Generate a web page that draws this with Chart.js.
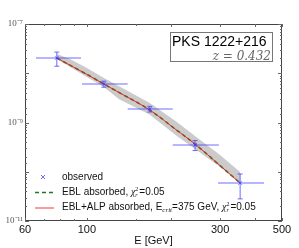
<!DOCTYPE html>
<html>
<head>
<meta charset="utf-8">
<script src="https://cdn.jsdelivr.net/npm/chart.js@4.4.1/dist/chart.umd.min.js"></script>
<style>
  html, body { margin: 0; padding: 0; background: #fff; }
  #wrap { width: 299px; height: 248px; }
</style>
</head>
<body>
<div id="wrap"><canvas id="sed"></canvas></div>
<script>
// Dados observados (E em GeV, fluxo)
const energias = [78, 115, 168, 244, 354];
const fluxo = [2.04e-8, 6.05e-9, 1.88e-9, 3.49e-10, 5.91e-11];
const eMin = [65.7, 96, 140, 203, 295];
const eMax = [95.2, 140, 203, 297, 431];
const erroFluxo = [0.65e-8, 0.85e-9, 0.25e-9, 0.8e-10, 3.1e-11];

// Modelo absorvido
const energiasModelo = [78, 100, 115, 130, 168, 210, 244, 300, 354];
const fluxoModelo = [2.04e-8, 9.48e-9, 6.05e-9, 4.10e-9, 1.79e-9, 6.95e-10, 3.66e-10, 1.33e-10, 5.91e-11];

// Faixa cinza
const energiasFaixa = [78, 87, 100, 115, 130, 168, 210, 244, 300, 354];
const faixaSup = [2.46e-8, 1.95e-8, 1.28e-8, 8.0e-9, 5.5e-9, 2.49e-9, 1.02e-9, 5.31e-10, 2.18e-10, 9.9e-11];
const faixaInf = [1.95e-8, 1.34e-8, 8.39e-9, 5.26e-9, 3.0e-9, 1.43e-9, 5.32e-10, 2.9e-10, 1.25e-10, 5.91e-11];

const rotulosX = [60, 100, 300, 500];
const rotulosY = [1e-7, 1e-9, 1e-11];

const pares = (xs, ys) => xs.map((x, i) => ({ x: x, y: ys[i] }));

const azul = 'rgba(60, 60, 255, 0.75)';

// Barras de erro, ticks internos, moldura, legenda e caixa de texto
const extras = {
    id: 'extras',
    afterDatasetsDraw(chart) {
        const ctx = chart.ctx;
        const sx = chart.scales.x, sy = chart.scales.y;
        ctx.save();
        ctx.strokeStyle = azul;
        ctx.lineWidth = 1;
        energias.forEach((e, i) => {
            const px = sx.getPixelForValue(e);
            const py = sy.getPixelForValue(fluxo[i]);
            const x1 = sx.getPixelForValue(eMin[i]);
            const x2 = sx.getPixelForValue(eMax[i]);
            const y1 = sy.getPixelForValue(fluxo[i] + erroFluxo[i]);
            const y2 = sy.getPixelForValue(fluxo[i] - erroFluxo[i]);
            ctx.beginPath();
            ctx.moveTo(x1, py); ctx.lineTo(x2, py);
            ctx.moveTo(px, y1); ctx.lineTo(px, y2);
            ctx.moveTo(px - 2.5, y1); ctx.lineTo(px + 2.5, y1);
            ctx.moveTo(px - 2.5, y2); ctx.lineTo(px + 2.5, y2);
            ctx.stroke();
        });
        ctx.restore();
    },
    afterDraw(chart) {
        const ctx = chart.ctx;
        const a = chart.chartArea;
        const sx = chart.scales.x, sy = chart.scales.y;
        ctx.save();
        // moldura
        ctx.strokeStyle = '#444';
        ctx.lineWidth = 1;
        ctx.strokeRect(a.left + 0.5, a.top + 0.5, a.right - a.left - 1, a.bottom - a.top - 1);
        // ticks internos
        ctx.strokeStyle = '#666';
        ctx.beginPath();
        sx.ticks.forEach(t => {
            const p = Math.round(sx.getPixelForValue(t.value)) + 0.5;
            const major = rotulosX.includes(t.value) || t.value === 200 || t.value === 400;
            const len = major ? 3 : 2;
            ctx.moveTo(p, a.bottom); ctx.lineTo(p, a.bottom - len);
            ctx.moveTo(p, a.top); ctx.lineTo(p, a.top + len);
        });
        sy.ticks.forEach(t => {
            const p = Math.round(sy.getPixelForValue(t.value)) + 0.5;
            const m = Math.log10(t.value);
            const len = Math.abs(m - Math.round(m)) < 1e-6 ? 4 : 2;
            ctx.moveTo(a.left, p); ctx.lineTo(a.left + len, p);
            ctx.moveTo(a.right, p); ctx.lineTo(a.right - len, p);
        });
        ctx.stroke();

        // legenda
        ctx.font = '10px "Liberation Sans", Arial, sans-serif';
        ctx.textBaseline = 'middle';
        ctx.fillStyle = '#111';
        ctx.strokeStyle = azul;
        ctx.lineWidth = 1;
        ctx.beginPath();
        ctx.moveTo(41, 175); ctx.lineTo(45, 179);
        ctx.moveTo(45, 175); ctx.lineTo(41, 179);
        ctx.stroke();
        ctx.fillText('observed', 62, 177);

        ctx.strokeStyle = '#1f7a1f';
        ctx.lineWidth = 1.5;
        ctx.setLineDash([4, 3]);
        ctx.beginPath(); ctx.moveTo(35, 192.5); ctx.lineTo(54, 192.5); ctx.stroke();
        ctx.setLineDash([]);
        let x = 62;
        ctx.fillText('EBL absorbed, ', x, 192);
        x += ctx.measureText('EBL absorbed, ').width;
        x = chi(ctx, x, 192);
        ctx.fillText('=0.05', x, 192);

        ctx.strokeStyle = 'rgba(255, 120, 120, 0.75)';
        ctx.lineWidth = 2;
        ctx.beginPath(); ctx.moveTo(35, 208); ctx.lineTo(54, 208); ctx.stroke();
        x = 62;
        ctx.fillText('EBL+ALP absorbed, E', x, 207);
        x += ctx.measureText('EBL+ALP absorbed, E').width;
        ctx.font = 'italic 7px "Liberation Serif", serif';
        ctx.fillText('crit', x, 210);
        x += ctx.measureText('crit').width;
        ctx.font = '10px "Liberation Sans", Arial, sans-serif';
        ctx.fillText('=375 GeV, ', x, 207);
        x += ctx.measureText('=375 GeV, ').width;
        x = chi(ctx, x, 207);
        ctx.fillText('=0.05', x, 207);

        // caixa do objeto
        ctx.strokeStyle = '#777';
        ctx.lineWidth = 1;
        ctx.strokeRect(170.5, 32.5, 102, 29);
        ctx.fillStyle = '#000';
        ctx.font = '14px "Liberation Sans", Arial, sans-serif';
        ctx.textBaseline = 'alphabetic';
        ctx.textAlign = 'left';
        ctx.fillText('PKS 1222+216', 172, 46);
        ctx.fillStyle = '#666';
        ctx.font = 'italic 12px "DejaVu Serif", "Liberation Serif", serif';
        ctx.textAlign = 'right';
        ctx.fillText('z = 0.432', 271, 60);
        ctx.restore();
    }
};

// desenha χ²_r e devolve a nova posição x
function chi(ctx, x, y) {
    ctx.save();
    ctx.font = 'italic 10px "Liberation Serif", serif';
    ctx.fillText('χ', x, y);
    const w = ctx.measureText('χ').width;
    ctx.font = '6px "Liberation Serif", serif';
    ctx.fillText('2', x + w, y - 3);
    ctx.font = 'italic 6px "Liberation Serif", serif';
    ctx.fillText('r', x + w, y + 3);
    ctx.restore();
    return x + w + 4;
}

const ctxSed = document.getElementById('sed').getContext('2d');
new Chart(ctxSed, {
    type: 'scatter',
    data: {
        datasets: [
            {
                data: pares(energiasFaixa, faixaSup),
                order: 5,
                showLine: true,
                borderWidth: 0,
                borderColor: 'rgba(0,0,0,0)',
                pointRadius: 0,
                fill: false
            },
            {
                data: pares(energiasFaixa, faixaInf),
                order: 4,
                showLine: true,
                borderWidth: 0,
                borderColor: 'rgba(0,0,0,0)',
                backgroundColor: '#cbcbcb',
                pointRadius: 0,
                fill: '-1'
            },
            {
                data: pares(energiasModelo, fluxoModelo),
                order: 3,
                showLine: true,
                borderColor: '#1f7a1f',
                borderWidth: 1.5,
                borderDash: [4, 3],
                cubicInterpolationMode: 'monotone',
                pointRadius: 0
            },
            {
                data: pares(energiasModelo, fluxoModelo),
                order: 2,
                showLine: true,
                borderColor: '#e8241f',
                borderWidth: 1,
                cubicInterpolationMode: 'monotone',
                pointRadius: 0
            },
            {
                data: pares(energias, fluxo),
                order: 1,
                pointStyle: 'crossRot',
                pointRadius: 2.5,
                borderColor: azul,
                borderWidth: 1
            }
        ]
    },
    options: {
        responsive: true,
        maintainAspectRatio: false,
        animation: false,
        layout: { padding: { left: 0, right: 17, top: 24, bottom: 0 } },
        plugins: { legend: { display: false }, tooltip: { enabled: false } },
        scales: {
            x: {
                type: 'logarithmic',
                min: 60,
                max: 500,
                grid: { display: false, drawTicks: false },
                border: { display: false },
                afterFit(scale) { scale.height = 27; },
                ticks: {
                    autoSkip: false,
                    maxRotation: 0,
                    padding: 2,
                    color: '#111',
                    font: { family: '"Liberation Sans", Arial, sans-serif', size: 11 },
                    callback: v => rotulosX.includes(v) ? String(v) : ''
                },
                title: {
                    display: true,
                    text: 'E [GeV]',
                    color: '#111',
                    padding: { top: 0, bottom: 0 },
                    font: { family: '"Liberation Sans", Arial, sans-serif', size: 11 }
                }
            },
            y: {
                type: 'logarithmic',
                min: 1e-11,
                max: 1e-7,
                grid: { display: false, drawTicks: false },
                border: { display: false },
                afterFit(scale) { scale.width = 25; },
                ticks: {
                    autoSkip: false,
                    padding: 2,
                    color: '#555',
                    font: { family: '"Liberation Serif", serif', size: 9 },
                    callback: function(v) {
                        const m = Math.round(Math.log10(v));
                        if (rotulosY.some(r => Math.abs(Math.log10(r) - Math.log10(v)) < 1e-6)) {
                            return '10' + (m === -7 ? '⁻⁷' : m === -9 ? '⁻⁹' : '⁻¹¹');
                        }
                        return '';
                    }
                }
            }
        }
    },
    plugins: [extras]
});
</script>
</body>
</html>
